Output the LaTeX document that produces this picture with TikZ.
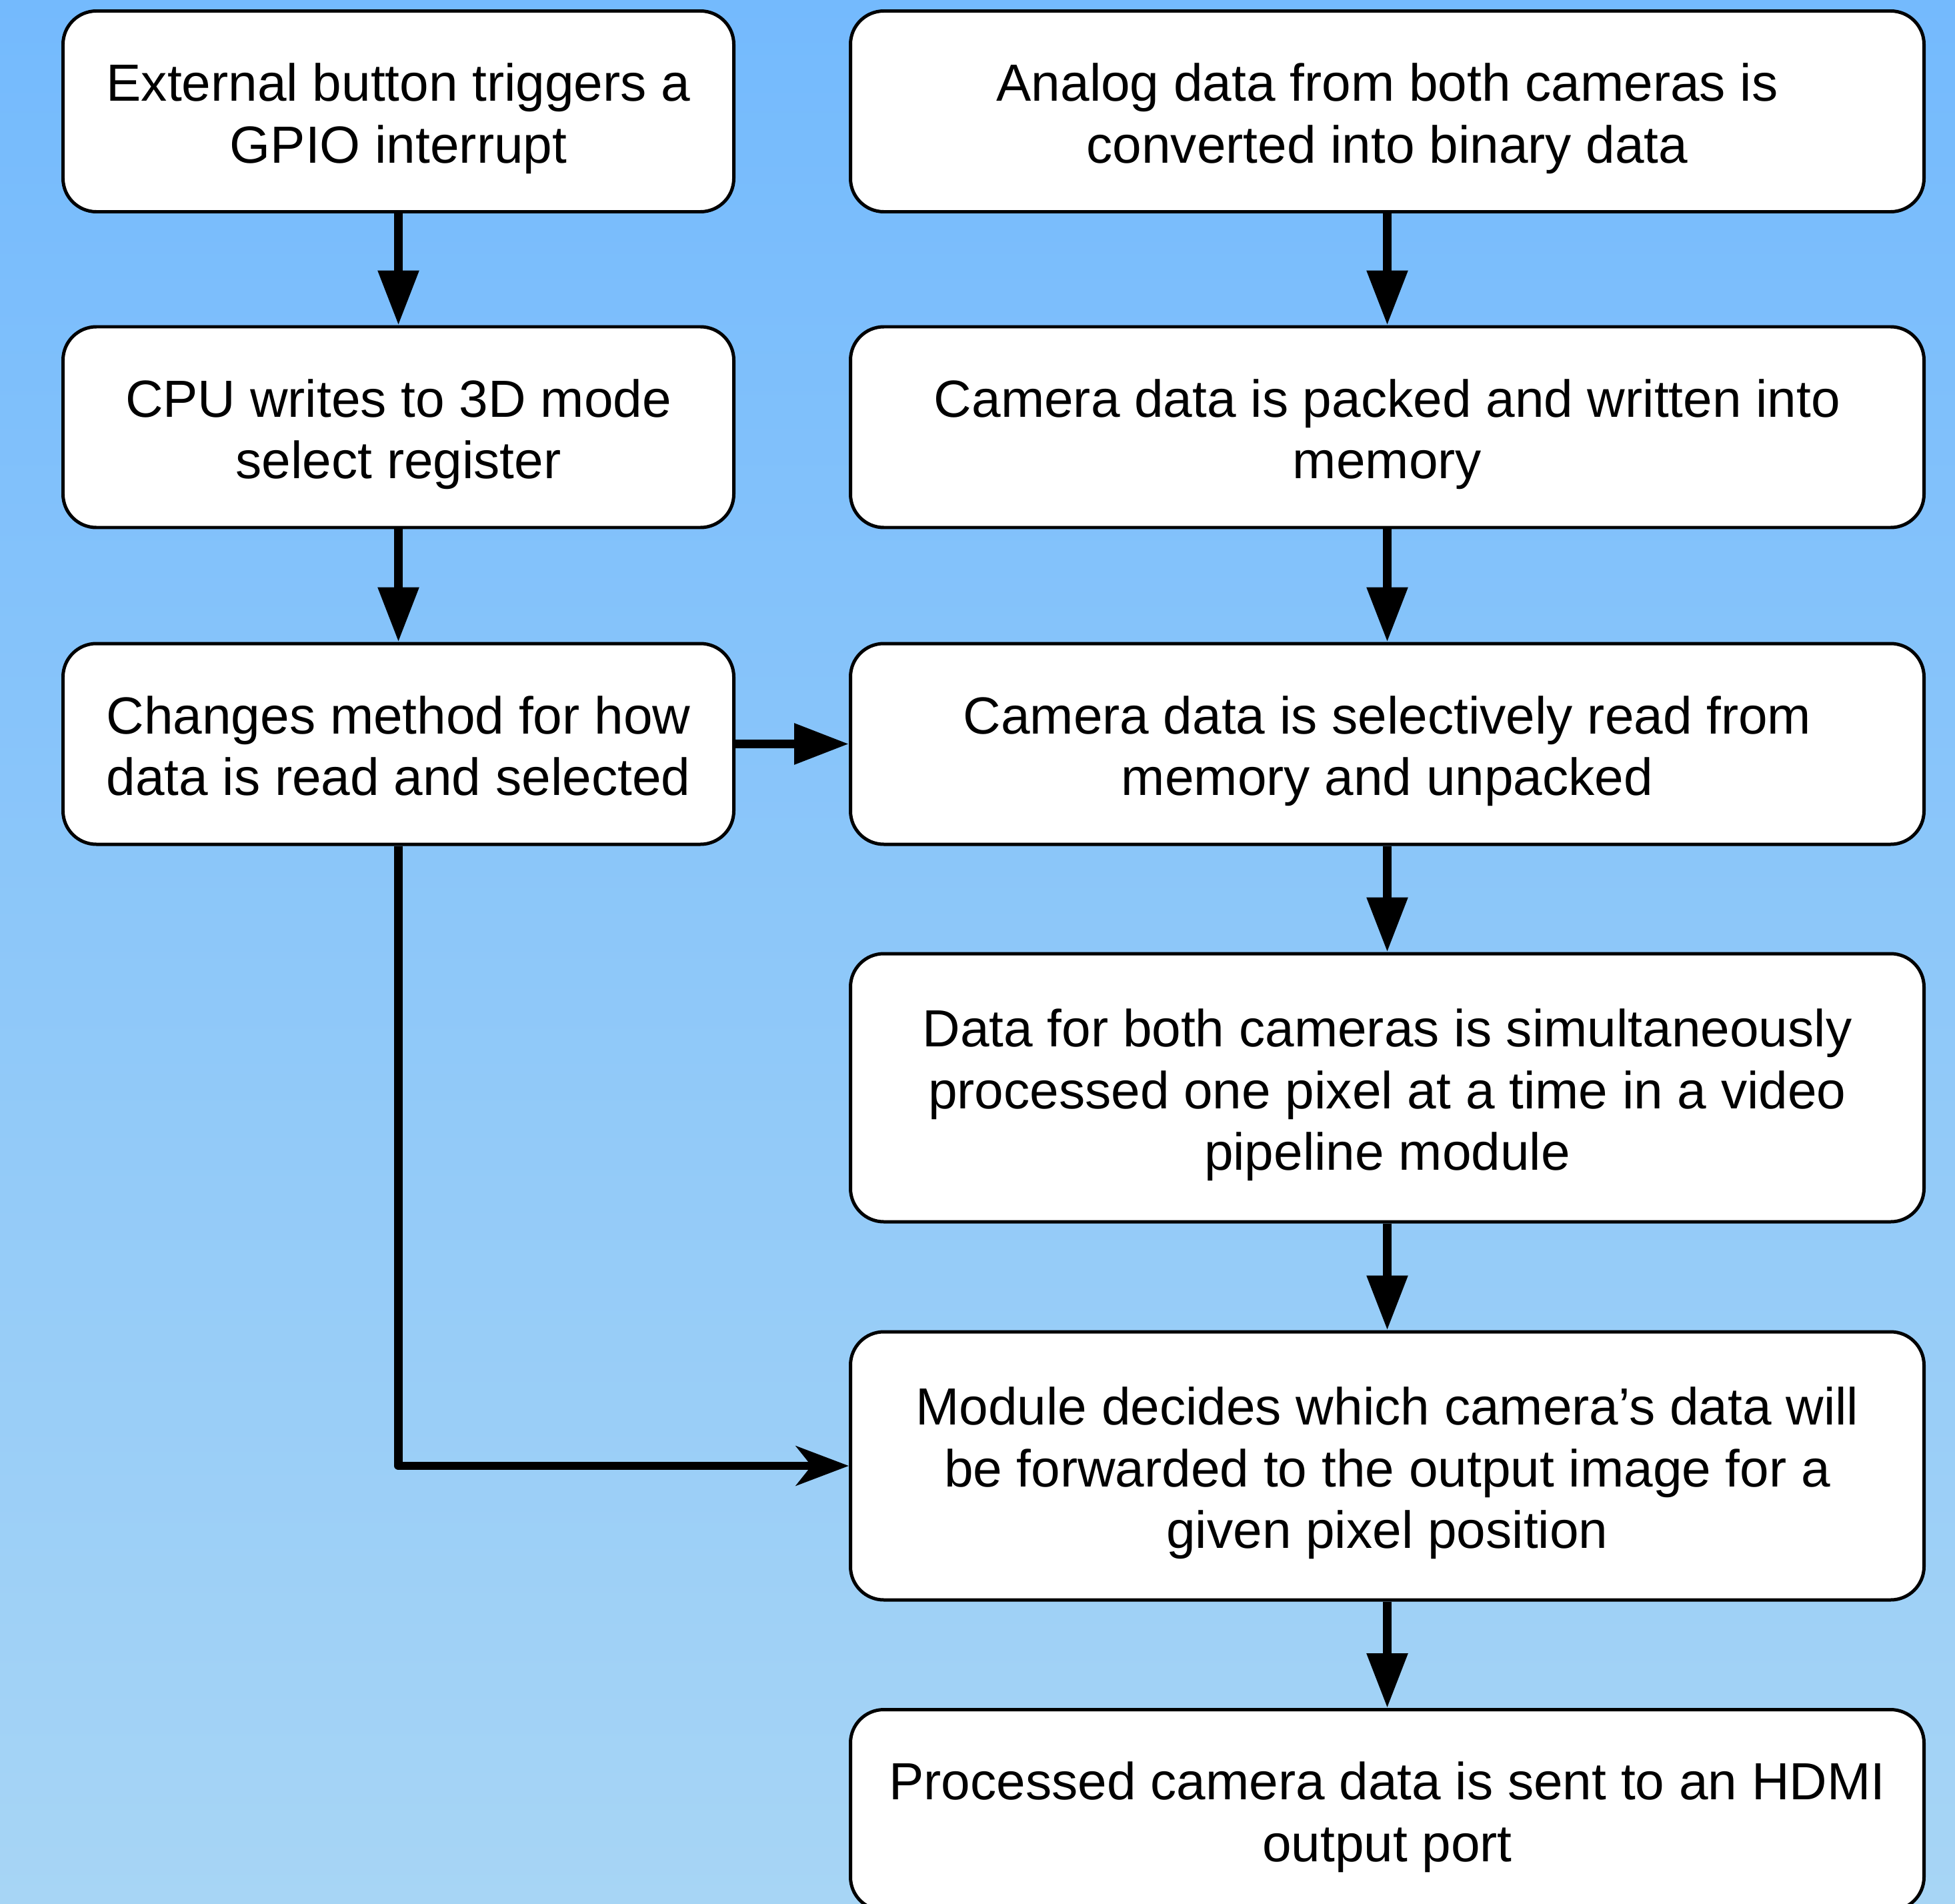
\documentclass[tikz,border=0pt]{standalone}
\usepackage{fontspec}
\setmainfont{Liberation Sans}
\usepackage{tikz}
\usetikzlibrary{positioning,arrows.meta}
\pgfdeclarelayer{background}
\pgfsetlayers{background,main}
\definecolor{flowbgtop}{rgb}{0.455, 0.729, 0.992}
\definecolor{flowbgbottom}{rgb}{0.655, 0.835, 0.961}
\newcommand{\flowtext}[1]{\rule{0pt}{0.82cm}#1\rule[-0.2cm]{0pt}{0.2cm}}
\tikzstyle{flowbox} = [draw, fill = white, line width = 1.42pt, rounded corners = 0.5cm, align = center, inner sep = 0pt, font = \fontsize{22.3}{26.2}\selectfont]
\tikzstyle{flowshort} = [minimum height = 3.01cm]
\tikzstyle{flowtall} = [minimum height = 4.02cm]
\tikzstyle{flowleft} = [flowbox, minimum width = 10.06cm]
\tikzstyle{flowright} = [flowbox, minimum width = 16.1cm]
\tikzstyle{flowarrow} = [line width = 3.56pt, -{Triangle[length = 0.82cm, width = 0.59cm]}]
\tikzstyle{flowbend} = [line width = 3.56pt, line join = round, -{Stealth[length = 0.79cm, width = 0.59cm, inset = 0.23cm]}]

\begin{document}
\begin{tikzpicture}
\path[use as bounding box, clip] (0, 0) rectangle (29.32, -28.55);
\begin{pgfonlayer}{background}
\shade[top color = flowbgtop, bottom color = flowbgbottom] (0, 0) rectangle (29.32, -28.55);
\end{pgfonlayer}
% left column
\node[flowleft, flowshort] (l1) at (5.975, -1.67) {\flowtext{External button triggers a\\GPIO interrupt}};
\node[flowleft, flowshort] (l2) at (5.975, -6.405) {\flowtext{CPU writes to 3D mode\\select register}};
\node[flowleft, flowshort] (l3) at (5.975, -11.155) {\flowtext{Changes method for how\\data is read and selected}};
% right column
\node[flowright, flowshort] (r1) at (20.805, -1.67) {\flowtext{Analog data from both cameras is\\converted into binary data}};
\node[flowright, flowshort] (r2) at (20.805, -6.405) {\flowtext{Camera data is packed and written into\\memory}};
\node[flowright, flowshort] (r3) at (20.805, -11.155) {\flowtext{Camera data is selectively read from\\memory and unpacked}};
\node[flowright, flowtall] (r4) at (20.805, -16.31) {\flowtext{Data for both cameras is simultaneously\\processed one pixel at a time in a video\\pipeline module}};
\node[flowright, flowtall] (r5) at (20.805, -21.98) {\flowtext{Module decides which camera’s data will\\be forwarded to the output image for a\\given pixel position}};
\node[flowright, flowshort] (r6) at (20.805, -27.14) {\flowtext{Processed camera data is sent to an HDMI\\output port}};
\draw[flowarrow] (l1) edge (l2);
\draw[flowarrow] (l2) edge (l3);
\draw[flowarrow] (l3) edge (r3);
\draw[flowarrow] (r1) edge (r2);
\draw[flowarrow] (r2) edge (r3);
\draw[flowarrow] (r3) edge (r4);
\draw[flowarrow] (r4) edge (r5);
\draw[flowarrow] (r5) edge (r6);
\draw[flowbend] (l3) |- (r5);
\end{tikzpicture}
\end{document}
